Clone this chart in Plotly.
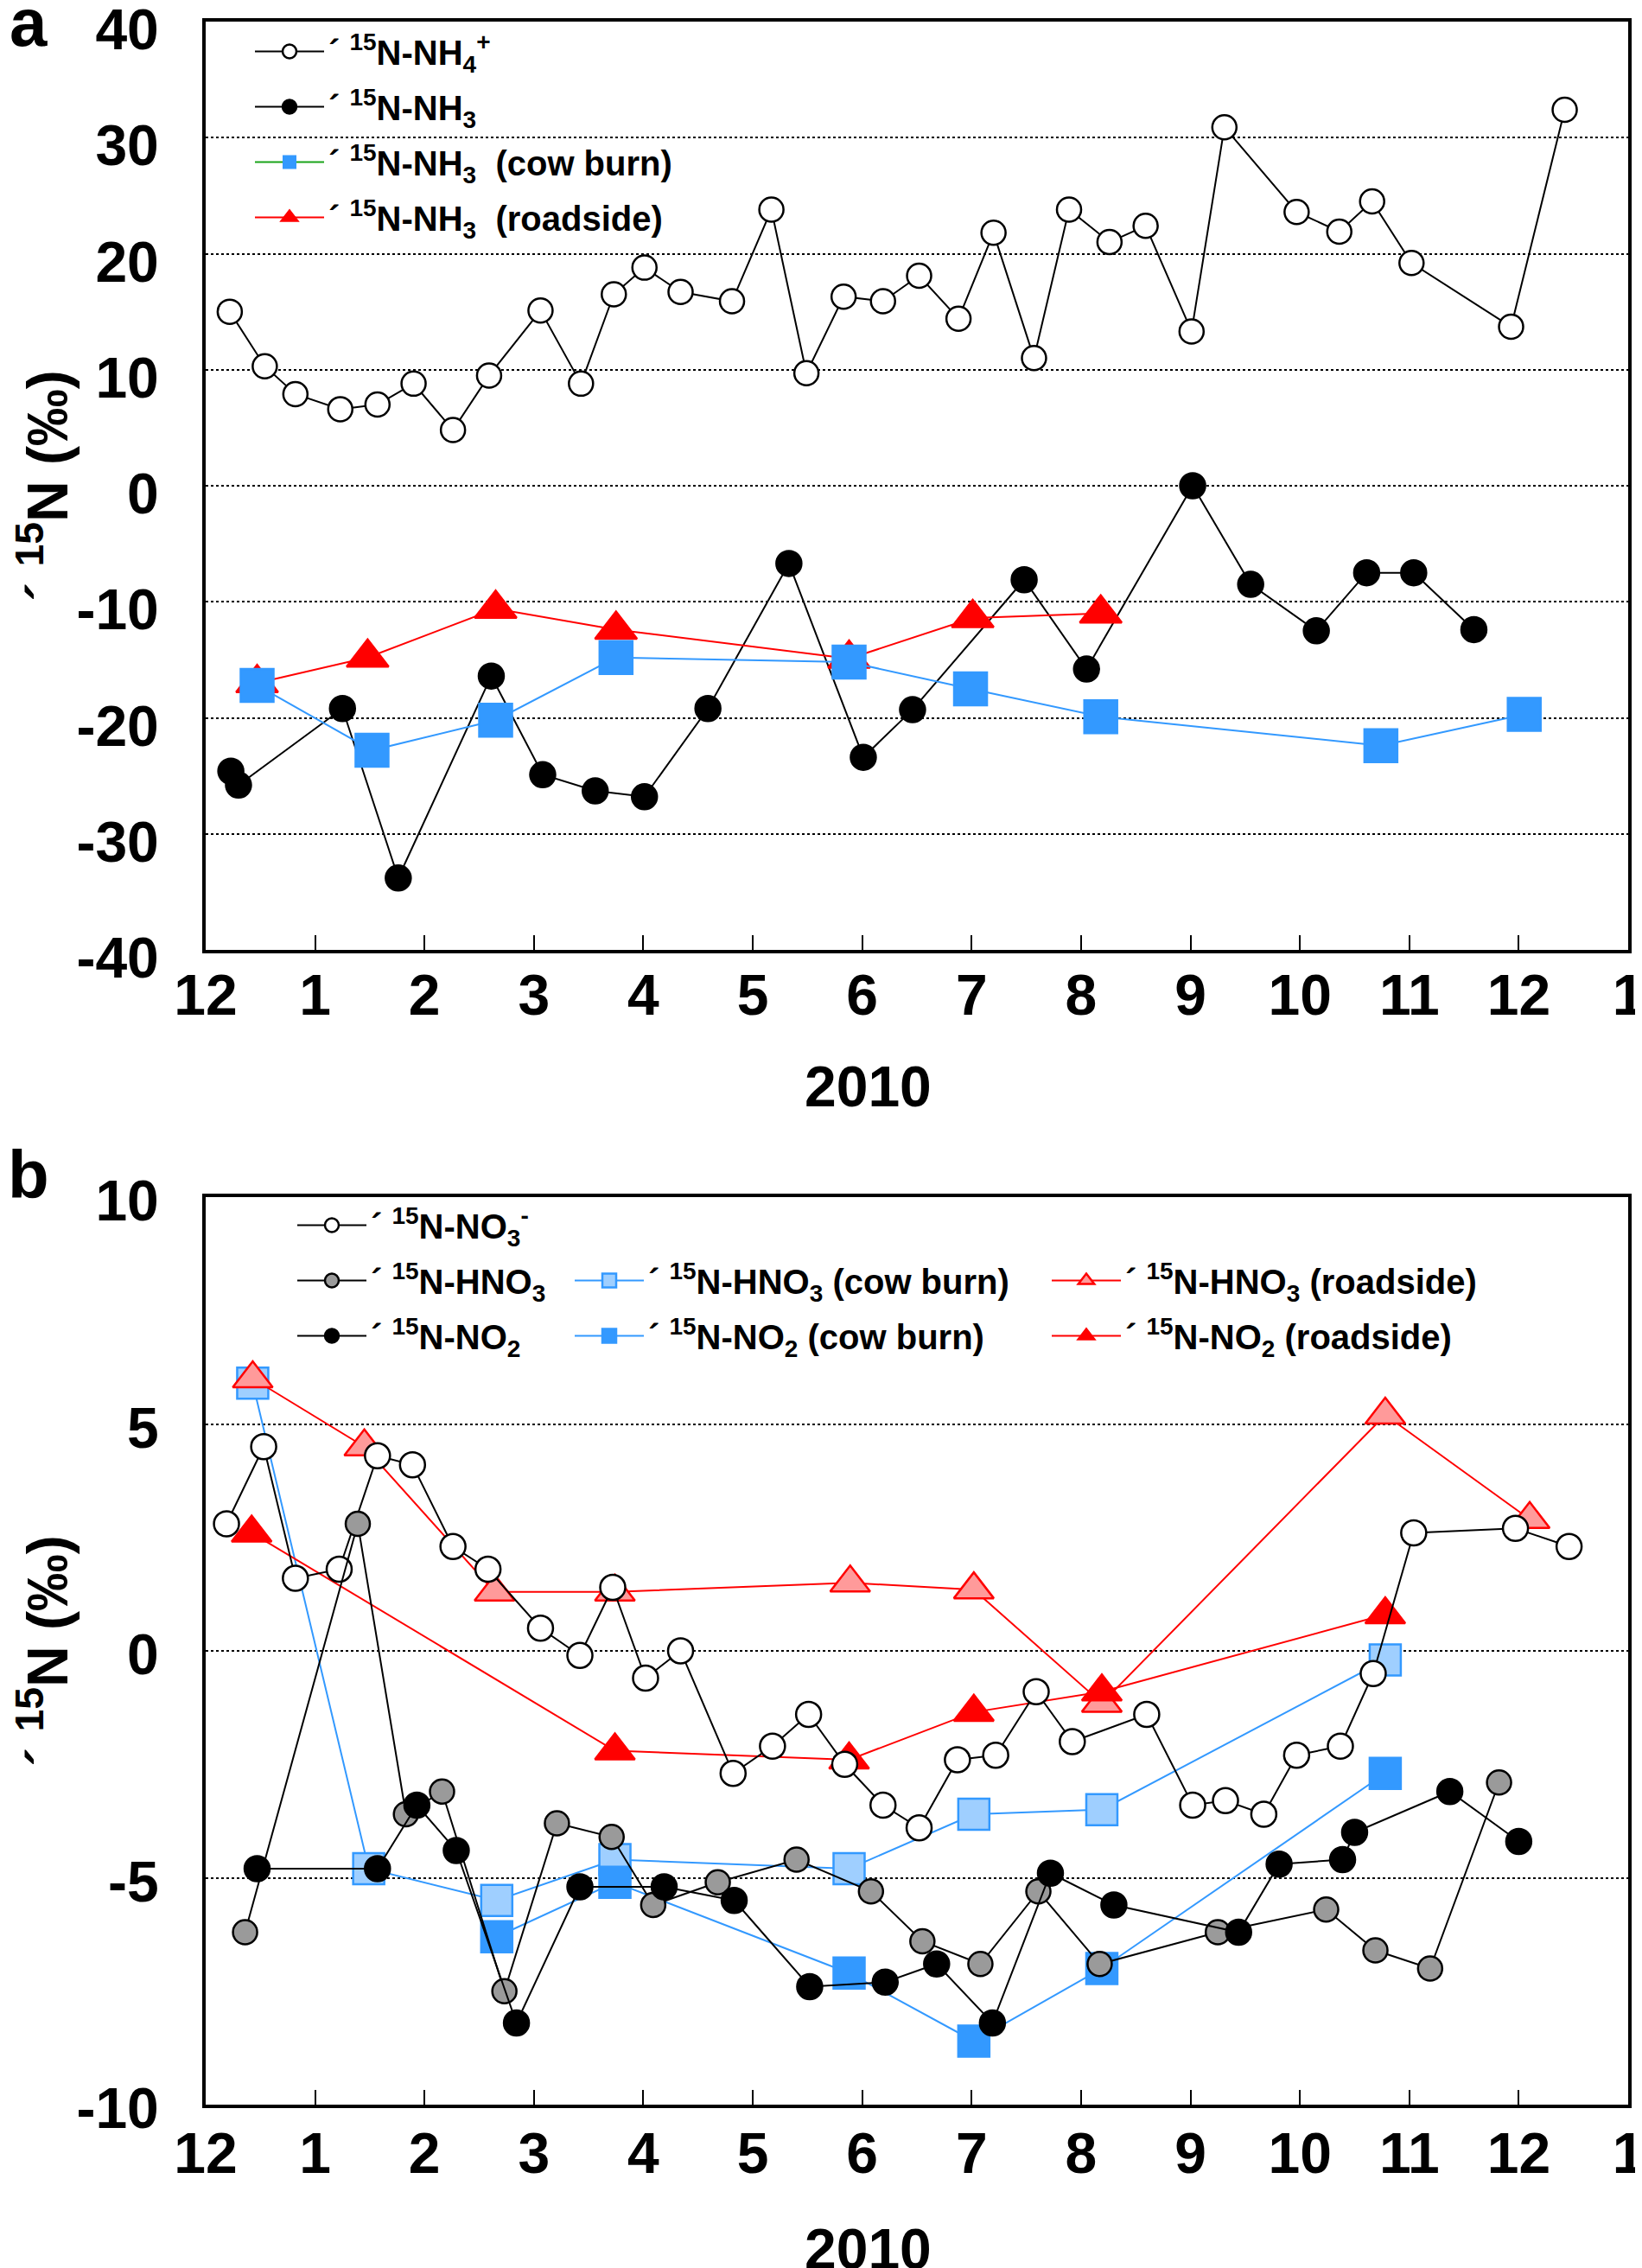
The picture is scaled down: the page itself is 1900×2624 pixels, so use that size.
import plotly.graph_objects as go
from plotly.subplots import make_subplots

# x positions are in months from 1 Dec 2009 (0) to 1 Jan 2011 (13)
month_ticks = list(range(14))
month_labels = ["12", "1", "2", "3", "4", "5", "6", "7", "8", "9", "10", "11", "12", "1"]
ya_ticks = [-40, -30, -20, -10, 0, 10, 20, 30, 40]
yb_ticks = [-10, -5, 0, 5, 10]

# panel a
nh4_m = [0.22, 0.54, 0.82, 1.23, 1.57, 1.90, 2.26, 2.59, 3.06, 3.43, 3.73, 4.01, 4.34, 4.81, 5.17, 5.49, 5.83,
         6.19, 6.52, 6.88, 7.20, 7.57, 7.89, 8.26, 8.59, 9.01, 9.31, 9.97, 10.36, 10.66, 11.02, 11.93, 12.42]
nh4_v = [15.0, 10.3, 7.9, 6.6, 7.0, 8.8, 4.8, 9.5, 15.1, 8.8, 16.5, 18.8, 16.7, 15.9, 23.8, 9.7, 16.3,
         15.9, 18.1, 14.4, 21.8, 11.0, 23.8, 21.0, 22.4, 13.3, 30.9, 23.6, 21.9, 24.5, 19.2, 13.7, 32.4]

nh3_m = [0.23, 0.30, 1.25, 1.76, 2.61, 3.08, 3.56, 4.01, 4.59, 5.33, 6.01, 6.46, 7.48, 8.05, 9.02, 9.55,
         10.15, 10.61, 11.04, 11.59]
nh3_v = [-24.6, -25.8, -19.2, -33.8, -16.4, -24.9, -26.3, -26.8, -19.2, -6.7, -23.4, -19.3, -8.1, -15.8,
         0.0, -8.5, -12.5, -7.5, -7.5, -12.4]

cow_nh3_m = [0.47, 1.52, 2.65, 3.75, 5.88, 6.99, 8.18, 10.74, 12.05]
cow_nh3_v = [-17.2, -22.8, -20.2, -14.8, -15.2, -17.5, -19.9, -22.4, -19.7]

road_nh3_m = [0.47, 1.48, 2.65, 3.75, 5.88, 7.01, 8.18]
road_nh3_v = [-17.0, -14.8, -10.6, -12.4, -14.9, -11.4, -11.0]

# panel b
no3_m = [0.19, 0.53, 0.82, 1.22, 1.57, 1.89, 2.26, 2.58, 3.06, 3.42, 3.72, 4.02, 4.34, 4.82, 5.18, 5.51, 5.84,
         6.19, 6.52, 6.87, 7.22, 7.59, 7.92, 8.60, 9.02, 9.32, 9.67, 9.97, 10.37, 10.67, 11.04, 11.97, 12.46]
no3_v = [2.8, 4.5, 1.6, 1.8, 4.3, 4.1, 2.3, 1.8, 0.5, -0.1, 1.4, -0.6, 0.0, -2.7, -2.1, -1.4, -2.5,
         -3.4, -3.9, -2.4, -2.3, -0.9, -2.0, -1.4, -3.4, -3.3, -3.6, -2.3, -2.1, -0.5, 2.6, 2.7, 2.3]

hno3_m = [0.36, 1.39, 1.83, 2.16, 2.73, 3.21, 3.71, 4.09, 4.68, 5.40, 6.08, 6.55, 7.08, 7.61, 8.17, 9.25,
          10.24, 10.69, 11.19, 11.82]
hno3_v = [-6.2, 2.8, -3.6, -3.1, -7.5, -3.8, -4.1, -5.6, -5.1, -4.6, -5.3, -6.4, -6.9, -5.3, -6.9, -6.2,
          -5.7, -6.6, -7.0, -2.9]

no2_m = [0.47, 1.57, 1.93, 2.29, 2.84, 3.42, 4.19, 4.83, 5.52, 6.21, 6.68, 7.19, 7.72, 8.30, 9.44, 9.81,
         10.39, 10.50, 11.37, 12.00]
no2_v = [-4.8, -4.8, -3.4, -4.4, -8.2, -5.2, -5.2, -5.5, -7.4, -7.3, -6.9, -8.2, -4.9, -5.6, -6.2, -4.7,
         -4.6, -4.0, -3.1, -4.2]

cow_hno3_m = [0.43, 1.49, 2.66, 3.74, 5.88, 7.02, 8.19, 10.78]
cow_hno3_v = [5.9, -4.8, -5.5, -4.6, -4.8, -3.6, -3.5, -0.2]

cow_no2_m = [2.66, 3.74, 5.88, 7.02, 8.19, 10.78]
cow_no2_v = [-6.3, -5.1, -7.1, -8.6, -7.0, -2.7]

road_hno3_m = [0.43, 1.45, 2.64, 3.74, 5.89, 7.02, 8.19, 10.78, 12.10]
road_hno3_v = [6.0, 4.5, 1.3, 1.3, 1.5, 1.35, -1.15, 5.2, 2.9]

road_no2_m = [0.42, 3.74, 5.88, 7.02, 8.19, 10.78]
road_no2_v = [2.6, -2.2, -2.4, -1.35, -0.9, 0.8]

FONT = "Liberation Sans, Arial, sans-serif"
BLUE = "#3399ff"
RED = "#ff0000"
d = "\u00b4 <sup>15</sup>N-"

fig = make_subplots(rows=2, cols=1)


def add(x, y, name, row, legend, rank, color, msym, msize, mfill, mline, show=True):
    fig.add_trace(go.Scatter(
        x=x, y=y, mode="lines+markers", name=name,
        line=dict(color=color, width=2),
        marker=dict(symbol=msym, size=msize, color=mfill, line=dict(color=mline, width=2.5)),
        legend=legend, legendgroup=name, legendrank=rank, showlegend=show,
    ), row=row, col=1)


# panel a
add(nh4_m, nh4_v, d + "NH<sub>4</sub><sup>+</sup>", 1, "legend", 1, "black", "circle", 28, "white", "black")
add(nh3_m, nh3_v, d + "NH<sub>3</sub>", 1, "legend", 2, "black", "circle", 29, "black", "black")
add(road_nh3_m, road_nh3_v, d + "NH<sub>3</sub>  (roadside)", 1, "legend", 4, RED, "triangle-up", 42, RED, RED)
add(cow_nh3_m, cow_nh3_v, "cow_a", 1, "legend", 3, BLUE, "square", 38, BLUE, BLUE, show=False)
# legend entry for the cow burn series (green line in the original key)
fig.add_trace(go.Scatter(
    x=[None], y=[None], mode="lines+markers", name=d + "NH<sub>3</sub>  (cow burn)",
    line=dict(color="#1aa31a", width=2), marker=dict(symbol="square", size=38, color=BLUE),
    legend="legend", legendgroup="cowleg", legendrank=3,
), row=1, col=1)

# panel b
add(cow_hno3_m, cow_hno3_v, d + "HNO<sub>3</sub> (cow burn)", 2, "legend3", 1, BLUE, "square", 36, "#9fcfff", BLUE)
add(cow_no2_m, cow_no2_v, d + "NO<sub>2</sub> (cow burn)", 2, "legend3", 2, BLUE, "square", 36, BLUE, BLUE)
add(road_hno3_m, road_hno3_v, d + "HNO<sub>3</sub> (roadside)", 2, "legend4", 1, RED, "triangle-up", 40, "#ff9a9a", RED)
add(road_no2_m, road_no2_v, d + "NO<sub>2</sub> (roadside)", 2, "legend4", 2, RED, "triangle-up", 40, RED, RED)
add(no3_m, no3_v, d + "NO<sub>3</sub><sup>-</sup>", 2, "legend2", 1, "black", "circle", 29, "white", "black")
add(hno3_m, hno3_v, d + "HNO<sub>3</sub>", 2, "legend2", 2, "black", "circle", 28, "#9a9a9a", "black")
add(no2_m, no2_v, d + "NO<sub>2</sub>", 2, "legend2", 3, "black", "circle", 29, "black", "black")

axis_font = dict(family=FONT, size=66, color="black", weight="bold")
xdom = [230 / 1900, 1876 / 1900]
fig.update_xaxes(range=[0, 13], tickvals=month_ticks, ticktext=month_labels, domain=xdom,
                 showline=True, mirror=True, linecolor="black", linewidth=4,
                 ticks="inside", ticklen=17, tickwidth=2, tickcolor="black", automargin=False,
                 ticklabeloverflow="allow", showgrid=False, zeroline=False, tickfont=axis_font)
fig.update_xaxes(ticklabelstandoff=-8, row=1, col=1)
fig.update_xaxes(ticklabelstandoff=-4, row=2, col=1)
fig.update_yaxes(showline=True, mirror=True, linecolor="black", linewidth=4, ticks="", automargin=False,
                 showgrid=True, gridcolor="black", gridwidth=2, griddash="dot", zeroline=False,
                 tickfont=axis_font, ticklabelstandoff=37, ticklabeloverflow="allow",
                 title=dict(text="\u00b4 <sup>15</sup>N (\u2030)", font=axis_font, standoff=31))
fig.update_yaxes(range=[-40, 40], tickvals=ya_ticks, ticktext=[str(v) for v in ya_ticks], ticklabelshift=9,
                 domain=[1 - 1091 / 2624, 1 - 17 / 2624], row=1, col=1)
fig.update_yaxes(range=[-10, 10], tickvals=yb_ticks, ticktext=[str(v) for v in yb_ticks], ticklabelshift=4,
                 domain=[1 - 2427 / 2624, 1 - 1377 / 2624], row=2, col=1)

leg_font = dict(family=FONT, size=40, color="black", weight="bold")
leg = dict(font=leg_font, bgcolor="rgba(0,0,0,0)", itemwidth=80, tracegroupgap=9,
           xanchor="left", yanchor="top", itemsizing="trace")
fig.update_layout(
    width=1900, height=2624,
    margin=dict(l=0, r=0, t=0, b=0),
    paper_bgcolor="white", plot_bgcolor="white",
    font=dict(family=FONT, color="black"),
    legend=dict(leg, x=282 / 1900, y=1 - 19 / 2624),
    legend2=dict(leg, x=331 / 1900, y=1 - 1377 / 2624),
    legend3=dict(leg, x=652 / 1900, y=1 - 1441 / 2624),
    legend4=dict(leg, x=1204 / 1900, y=1 - 1441 / 2624),
)

big = dict(family=FONT, size=78, color="black", weight="bold")
for txt, py in [("a", 18), ("b", 1351)]:
    fig.add_annotation(text=txt, x=25 / 1900, y=1 - py / 2624, xref="paper", yref="paper",
                       showarrow=False, font=big, xanchor="center", yanchor="middle")
for py in [1249, 2594]:
    fig.add_annotation(text="2010", x=996 / 1900, y=1 - py / 2624, xref="paper", yref="paper",
                       showarrow=False, font=axis_font, xanchor="center", yanchor="middle")

fig.write_html("out.html")
